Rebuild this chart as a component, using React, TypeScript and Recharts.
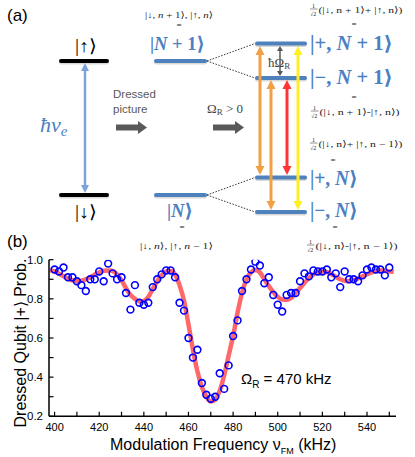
import { ComposedChart, Line, Scatter, XAxis, YAxis } from "recharts";

// measured points, dressed qubit |+> probability vs modulation frequency (kHz)
const freqKHz = [
  400, 402, 404, 406, 408, 410, 412, 414, 416, 418, 420, 422, 424, 426, 428, 430,
  432, 434, 436, 438, 440, 442, 444, 446, 448, 450, 452, 454, 456, 458, 460, 462,
  464, 466, 468, 470, 472, 474, 476, 478, 480, 482, 484, 486, 488, 490, 492, 494,
  496, 498, 500, 502, 504, 506, 508, 510, 512, 514, 516, 518, 520, 522, 524, 526,
  528, 530, 532, 534, 536, 538, 540, 542, 544, 546, 548, 550,
];
const probPlus = [
  0.95, 0.94, 0.96, 0.91, 0.91, 0.89, 0.87, 0.84, 0.9, 0.9, 0.94, 0.89, 0.98, 0.93, 0.9, 0.91,
  0.83, 0.745, 0.87, 0.78, 0.77, 0.78, 0.86, 0.9, 0.925, 0.945, 0.945, 0.91, 0.78, 0.74, 0.6, 0.5,
  0.54, 0.37, 0.31, 0.29, 0.3, 0.42, 0.34, 0.46, 0.61, 0.69, 0.84, 0.9, 0.95, 0.99, 0.97, 0.88,
  0.91, 0.82, 0.77, 0.735, 0.82, 0.83, 0.83, 0.89, 0.93, 0.915, 0.945, 0.94, 0.94, 0.95, 0.91, 0.93,
  0.86, 0.94, 0.9, 0.9, 0.89, 0.92, 0.95, 0.96, 0.95, 0.95, 0.92, 0.96,
];

// fitted curve
const fitFreq = [
  398, 401, 404, 407, 410, 413, 416, 419, 422, 425, 428, 430, 432, 434, 436, 438,
  440, 442, 444, 446, 448, 450, 452, 454, 456, 458, 460, 462, 464, 466, 468, 470,
  472, 474, 476, 478, 480, 482, 484, 486, 488, 490, 492, 494, 496, 498, 500, 502,
  504, 506, 508, 510, 513, 516, 519, 522, 525, 528, 531, 534, 538, 542, 546, 550, 552,
];
const fitProb = [
  0.947, 0.935, 0.915, 0.898, 0.89, 0.895, 0.91, 0.93, 0.943, 0.945, 0.925, 0.895, 0.855, 0.82, 0.8, 0.787,
  0.79, 0.81, 0.85, 0.89, 0.92, 0.94, 0.942, 0.925, 0.87, 0.79, 0.67, 0.54, 0.43, 0.35, 0.3, 0.276,
  0.285, 0.33, 0.41, 0.51, 0.61, 0.73, 0.83, 0.9, 0.935, 0.947, 0.935, 0.9, 0.865, 0.835, 0.81, 0.797,
  0.795, 0.805, 0.83, 0.855, 0.895, 0.925, 0.94, 0.937, 0.92, 0.9, 0.89, 0.895, 0.915, 0.935, 0.945, 0.94, 0.938,
];

const xTicks = [400, 410, 420, 430, 440, 450, 460, 470, 480, 490, 500, 510, 520, 530, 540, 550];
const yTicks = [0.2, 0.3, 0.4, 0.5, 0.6, 0.7, 0.8, 0.9, 1.0];

const points = freqKHz.map((x, i) => ({ x, y: probPlus[i] }));
const fit = fitFreq.map((x, i) => ({ x, y: fitProb[i] }));

const SANS = "'Liberation Sans', Arial, sans-serif";
const SERIF = "'Liberation Serif', 'DejaVu Serif', serif";
const TICK = 4.5;

function BottomTick({ x, y, payload }: any) {
  const v = payload.value;
  return (
    <g>
      <line x1={x} x2={x} y1={y} y2={y - TICK} stroke="#000" strokeWidth={1.2} />
      {v % 20 === 0 && (
        <text x={x} y={y + 15} textAnchor="middle" fontSize={11} fontFamily={SANS} fill="#000">{v}</text>
      )}
    </g>
  );
}
function TopTick({ x, y }: any) {
  return <line x1={x} x2={x} y1={y} y2={y + TICK} stroke="#000" strokeWidth={1.2} />;
}
function LeftTick({ x, y, payload }: any) {
  const v = payload.value;
  return (
    <g>
      <line x1={x} x2={x + TICK} y1={y} y2={y} stroke="#000" strokeWidth={1.2} />
      {Math.round(v * 10) % 2 === 0 && (
        <text x={x - 6} y={y + 4} textAnchor="end" fontSize={11.5} fontFamily={SANS} fill="#000">{v.toFixed(1)}</text>
      )}
    </g>
  );
}
function RightTick({ x, y }: any) {
  return <line x1={x} x2={x - TICK} y1={y} y2={y} stroke="#000" strokeWidth={1.2} />;
}

function Ring({ cx, cy }: any) {
  return <circle cx={cx} cy={cy} r={3.4} fill="none" stroke="#0000ff" strokeWidth={1.6} />;
}

const LV = "#4f81bd";
const TB = "#4c80c2";

function Level({ x1, x2, y, color }: any) {
  return (
    <g>
      <line x1={x1} x2={x2} y1={y + 1.6} y2={y + 1.6} stroke="#000" strokeOpacity={0.15} strokeWidth={4} strokeLinecap="round" />
      <line x1={x1} x2={x2} y1={y} y2={y} stroke={color} strokeWidth={4} strokeLinecap="round" />
    </g>
  );
}

function DArrow({ x, y1, y2, color, w, hw, hl }: any) {
  return (
    <g>
      <line x1={x} x2={x} y1={y1 + hl - 1} y2={y2 - hl + 1} stroke={color} strokeWidth={w} />
      <polygon points={`${x},${y1} ${x - hw},${y1 + hl} ${x + hw},${y1 + hl}`} fill={color} />
      <polygon points={`${x},${y2} ${x - hw},${y2 - hl} ${x + hw},${y2 - hl}`} fill={color} />
    </g>
  );
}

function BlockArrow({ x, y }: any) {
  return (
    <polygon
      points={`${x},${y - 3} ${x + 22},${y - 3} ${x + 22},${y - 6.5} ${x + 31},${y} ${x + 22},${y + 6.5} ${x + 22},${y + 3} ${x},${y + 3}`}
      fill="#595959"
    />
  );
}

function Frac({ x, y, body, len }: any) {
  return (
    <g fontFamily={SERIF} fill="#222">
      <text x={x + 2} y={y - 5.5} fontSize={6}>1</text>
      <line x1={x} x2={x + 7.5} y1={y - 4} y2={y - 4} stroke="#222" strokeWidth={0.5} />
      <text x={x} y={y + 2.5} fontSize={6}>√2</text>
      <text x={x + 8.5} y={y} fontSize={9} textLength={len} lengthAdjust="spacingAndGlyphs">{body}</text>
    </g>
  );
}

function Diagram() {
  return (
    <svg width={415} height={457} style={{ position: "absolute", left: 0, top: 0, pointerEvents: "none" }}>
      <text x={7} y={21} fontSize={17} fontFamily={SANS}>(a)</text>
      <text x={7} y={247} fontSize={17} fontFamily={SANS}>(b)</text>

      {/* bare qubit */}
      <Level x1={61} x2={107} y={61} color="#000" />
      <Level x1={61} x2={107} y={195} color="#000" />
      <text x={75} y={52} fontSize={18} fontFamily={SERIF} textLength={22} lengthAdjust="spacingAndGlyphs">|↑⟩</text>
      <text x={75} y={218} fontSize={18} fontFamily={SERIF} textLength={22} lengthAdjust="spacingAndGlyphs">|↓⟩</text>
      <DArrow x={85} y1={63} y2={193} color="#7ba3d9" w={2.5} hw={4} hl={8} />
      <text x={40} y={132} fontSize={22} fontFamily={SERIF} fontStyle="italic" fill={TB}>
        ħν<tspan fontSize={15} dy={4}>e</tspan>
      </text>

      <text x={113} y={98} fontSize={11.5} fontFamily={SANS} fill="#595959">Dressed</text>
      <text x={113} y={113} fontSize={11.5} fontFamily={SANS} fill="#595959">picture</text>
      <BlockArrow x={116} y={127.5} />

      {/* dressed, Omega_R = 0 */}
      <text x={145} y={18} fontSize={9} fontFamily={SERIF} fill="#222" textLength={68} lengthAdjust="spacingAndGlyphs">
        |↓, <tspan fontStyle="italic">n</tspan> + 1⟩,  |↑, <tspan fontStyle="italic">n</tspan>⟩
      </text>
      <text x={179} y={28} fontSize={9} fontFamily={SERIF} textAnchor="middle" fill="#222">=</text>
      <text x={150} y={50} fontSize={19} fontFamily={SERIF} fontWeight="bold" fill={TB} textLength={55} lengthAdjust="spacingAndGlyphs">
        |<tspan fontStyle="italic">N</tspan> + 1⟩
      </text>
      <Level x1={156} x2={205} y={61} color={LV} />
      <Level x1={156} x2={205} y={195} color={LV} />
      <text x={167} y={217} fontSize={19} fontFamily={SERIF} fontWeight="bold" fill={TB} textLength={26} lengthAdjust="spacingAndGlyphs">
        |<tspan fontStyle="italic">N</tspan>⟩
      </text>
      <text x={182} y={230} fontSize={9} fontFamily={SERIF} textAnchor="middle" fill="#222">=</text>
      <text x={140} y={249} fontSize={9} fontFamily={SERIF} fill="#222" textLength={73} lengthAdjust="spacingAndGlyphs">
        |↓, <tspan fontStyle="italic">n</tspan>⟩,  |↑, <tspan fontStyle="italic">n</tspan> − 1⟩
      </text>

      <text x={207} y={113} fontSize={13} fontFamily={SERIF} fill="#444">
        Ω<tspan fontSize={9} dy={2}>R</tspan><tspan dy={-2}> &gt; 0</tspan>
      </text>
      <BlockArrow x={213} y={127.5} />

      {/* splitting */}
      <g stroke="#333" strokeWidth={1} strokeDasharray="1.5 1.5">
        <line x1={207} y1={61} x2={255} y2={43.5} />
        <line x1={207} y1={61} x2={255} y2={78} />
        <line x1={207} y1={195} x2={255} y2={177.5} />
        <line x1={207} y1={195} x2={255} y2={212} />
      </g>
      <Level x1={257} x2={305} y={43.5} color={LV} />
      <Level x1={257} x2={305} y={78} color={LV} />
      <Level x1={257} x2={305} y={177.5} color={LV} />
      <Level x1={257} x2={305} y={212} color={LV} />

      <DArrow x={280} y1={46} y2={76} color="#595959" w={1.5} hw={3} hl={5} />
      <text x={268} y={67} fontSize={13} fontFamily={SERIF} fill="#444">
        ħΩ<tspan fontSize={9} dy={2}>R</tspan>
      </text>
      <DArrow x={260} y1={46} y2={175} color="#f2a044" w={3} hw={4.5} hl={9} />
      <DArrow x={271} y1={80} y2={210} color="#f2a044" w={3} hw={4.5} hl={9} />
      <DArrow x={287} y1={80} y2={175} color="#ff3535" w={3} hw={4.5} hl={9} />
      <DArrow x={298} y1={46} y2={210} color="#ffee22" w={3} hw={4.5} hl={9} />

      <g fontSize={20} fontFamily={SERIF} fontWeight="bold" fill={TB}>
        <text x={310} y={50} textLength={83} lengthAdjust="spacingAndGlyphs">|+, <tspan fontStyle="italic">N</tspan> + 1⟩</text>
        <text x={310} y={84} textLength={83} lengthAdjust="spacingAndGlyphs">|−, <tspan fontStyle="italic">N</tspan> + 1⟩</text>
        <text x={310} y={185} textLength={48} lengthAdjust="spacingAndGlyphs">|+, <tspan fontStyle="italic">N</tspan>⟩</text>
        <text x={310} y={217} textLength={48} lengthAdjust="spacingAndGlyphs">|−, <tspan fontStyle="italic">N</tspan>⟩</text>
      </g>

      <Frac x={310} y={13} len={84} body="(|↓, n + 1⟩+ |↑, n⟩)" />
      <text x={354} y={27} fontSize={9} fontFamily={SERIF} textAnchor="middle" fill="#222">=</text>
      <text x={354} y={100} fontSize={9} fontFamily={SERIF} textAnchor="middle" fill="#222">=</text>
      <Frac x={311} y={115} len={80} body="(|↓, n + 1⟩-|↑, n⟩)" />
      <Frac x={310} y={147} len={84} body="(|↓, n⟩+ |↑, n − 1⟩)" />
      <text x={333} y={163} fontSize={9} fontFamily={SERIF} textAnchor="middle" fill="#222">=</text>
      <text x={335} y={230} fontSize={9} fontFamily={SERIF} textAnchor="middle" fill="#222">=</text>
      <Frac x={307} y={249} len={82} body="(|↓, n⟩-|↑, n − 1⟩)" />

      {/* chart annotations */}
      <text x={241} y={383.5} fontSize={15} fontFamily={SANS}>
        Ω<tspan fontSize={10} dy={4}>R</tspan><tspan dy={-4}> = 470 kHz</tspan>
      </text>
      <text x={110} y={450} fontSize={16} fontFamily={SANS}>
        Modulation Frequency ν<tspan fontSize={9} dy={4}>FM</tspan><tspan dy={-4}> (kHz)</tspan>
      </text>
      <text
        transform="translate(26,343) rotate(-90)"
        textAnchor="middle"
        fontSize={16}
        fontFamily={SANS}
      >
        Dressed Qubit |+⟩ Prob.
      </text>
    </svg>
  );
}

export default function App() {
  return (
    <div style={{ position: "absolute", left: 0, top: 0, width: 415, height: 457, background: "#fff" }}>
      <ComposedChart
        width={415}
        height={457}
        margin={{ top: 259.7, right: 19, bottom: 0, left: 0 }}
      >
        <XAxis
          xAxisId="b" type="number" dataKey="x" domain={[397.5, 553]} allowDataOverflow
          ticks={xTicks} interval={0} height={40.7} tickSize={0} tickMargin={0} tickLine={false}
          axisLine={{ stroke: "#000", strokeWidth: 1.5 }} tick={(p: any) => <BottomTick {...p} />}
        />
        <XAxis
          xAxisId="t" orientation="top" type="number" dataKey="x" domain={[397.5, 553]} allowDataOverflow
          ticks={xTicks} interval={0} height={0} tickSize={0} tickMargin={0} tickLine={false}
          axisLine={{ stroke: "#000", strokeWidth: 1.5 }} tick={(p: any) => <TopTick {...p} />}
        />
        <YAxis
          yAxisId="l" type="number" domain={[0.2, 1.0]} allowDataOverflow ticks={yTicks} interval={0}
          width={49} tickSize={0} tickMargin={0} tickLine={false}
          axisLine={{ stroke: "#000", strokeWidth: 1.5 }} tick={(p: any) => <LeftTick {...p} />}
        />
        <YAxis
          yAxisId="r" orientation="right" type="number" domain={[0.2, 1.0]} allowDataOverflow ticks={yTicks}
          interval={0} width={0} tickSize={0} tickMargin={0} tickLine={false}
          axisLine={{ stroke: "#000", strokeWidth: 1.5 }} tick={(p: any) => <RightTick {...p} />}
        />
        <Line
          xAxisId="b" yAxisId="l" data={fit} dataKey="y" type="monotone" stroke="#ff4d4d"
          strokeOpacity={0.85} strokeWidth={4.5} dot={false} isAnimationActive={false}
        />
        <Scatter
          xAxisId="b" yAxisId="l" data={points} dataKey="y" shape={(p: any) => <Ring {...p} />}
          isAnimationActive={false}
        />
      </ComposedChart>
      <Diagram />
    </div>
  );
}
